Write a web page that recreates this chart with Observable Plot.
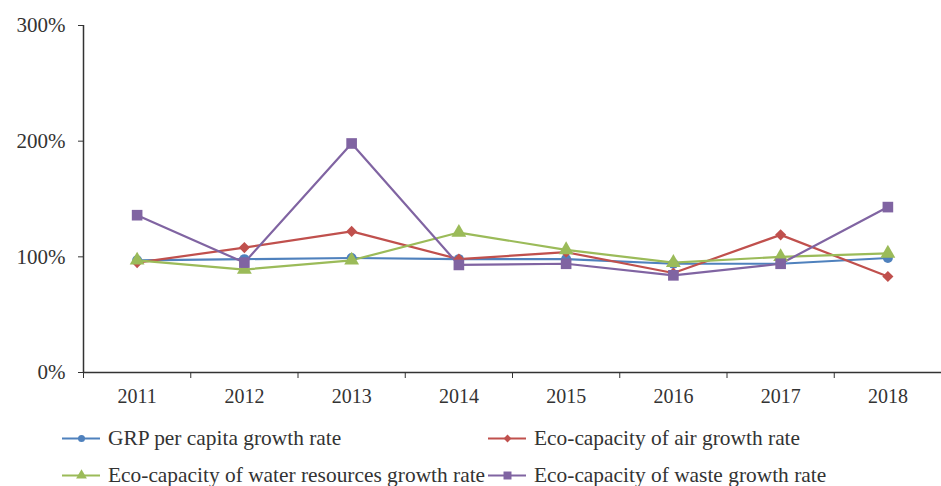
<!DOCTYPE html>
<html><head><meta charset="utf-8">
<script src="https://cdn.jsdelivr.net/npm/d3@7"></script>
<script src="https://cdn.jsdelivr.net/npm/@observablehq/plot@0.6"></script>
<style>
body{margin:0;background:#fff;font-family:"Liberation Serif","Times New Roman",serif;overflow:hidden;}
#legend{position:relative;height:76px;font-size:21.4px;color:#333;}
.item{position:absolute;display:flex;align-items:center;white-space:nowrap;height:20px;}
.item span{line-height:20px;}
.item svg{margin-right:8px;}
</style></head><body>
<div id="chart"></div>
<div id="legend"></div>
<script>
const years = [2011, 2012, 2013, 2014, 2015, 2016, 2017, 2018];
const seriesNames = ["GRP per capita growth rate", "Eco-capacity of air growth rate", "Eco-capacity of water resources growth rate", "Eco-capacity of waste growth rate"];
const grp = [97, 98, 99, 98, 98, 94, 94, 99];
const air = [95, 108, 122, 98, 104, 86, 119, 83];
const water = [97, 89, 97, 121, 106, 95, 100, 103];
const waste = [136, 95, 198, 93, 94, 84, 94, 143];
const yTicks = [0, 100, 200, 300];
const colors = ["#4F81BD", "#C0504D", "#9BBB59", "#8064A2"];
const symbols = ["circle", "diamond2", "triangle", "square"];
const sizes = [5, 5, 5.5, 6];

const allSeries = [grp, air, water, waste];
const rows = [];
allSeries.forEach((vals, s) => vals.forEach((v, i) => rows.push({year: years[i], value: v, series: seriesNames[s]})));

const boundaries = years.map(y => y - 0.5).concat([years[years.length - 1] + 0.5]);

const marks = [
  Plot.ruleY([0], {stroke: "#333", strokeWidth: 1.5}),
  Plot.ruleX([boundaries[0]], {stroke: "#333", strokeWidth: 1.5}),
  Plot.axisY({ticks: yTicks, tickFormat: d => d + "%", tickSize: 5, tickPadding: 13, fontSize: 21, color: "#333", label: null}),
  Plot.axisX({ticks: boundaries, tickFormat: () => "", tickSize: 6, label: null, color: "#333"}),
  Plot.axisX({ticks: years, tickFormat: d => String(d), tickSize: 0, tickPadding: 16, fontSize: 20, label: null, color: "#333"})
];
seriesNames.forEach((name, s) => {
  const data = rows.filter(r => r.series === name);
  marks.push(Plot.line(data, {x: "year", y: "value", stroke: colors[s], strokeWidth: 2.2}));
});
seriesNames.forEach((name, s) => {
  const data = rows.filter(r => r.series === name);
  marks.push(Plot.dot(data, {x: "year", y: "value", fill: colors[s], stroke: "none", symbol: symbols[s], r: sizes[s]}));
});

const chart = Plot.plot({
  width: 941, height: 410,
  marginLeft: 83, marginRight: 0, marginTop: 25, marginBottom: 38,
  x: {domain: [boundaries[0], boundaries[boundaries.length - 1]], axis: null},
  y: {domain: [0, 300], axis: null},
  style: {fontFamily: "Liberation Serif, Times New Roman, serif", background: "#fff"},
  marks
});
document.getElementById("chart").appendChild(chart);

const legend = document.getElementById("legend");
const pos = [[62, 28], [488, 28], [62, 65], [488, 65]];
seriesNames.forEach((name, s) => {
  const div = document.createElement("div");
  div.className = "item";
  div.style.left = pos[s][0] + "px";
  div.style.top = (pos[s][1] - 10) + "px";
  const sw = Plot.plot({
    width: 38, height: 14, margin: 0,
    x: {domain: [0, 2], axis: null}, y: {domain: [0, 1], axis: null},
    marks: [
      Plot.ruleY([0.5], {x1: 0, x2: 2, stroke: colors[s], strokeWidth: 2}),
      Plot.dot([1], {x: d => d, y: 0.5, fill: colors[s], symbol: symbols[s], r: sizes[s] - 1.5})
    ]
  });
  div.appendChild(sw);
  const t = document.createElement("span");
  t.textContent = name;
  div.appendChild(t);
  legend.appendChild(div);
});
</script>
</body></html>
